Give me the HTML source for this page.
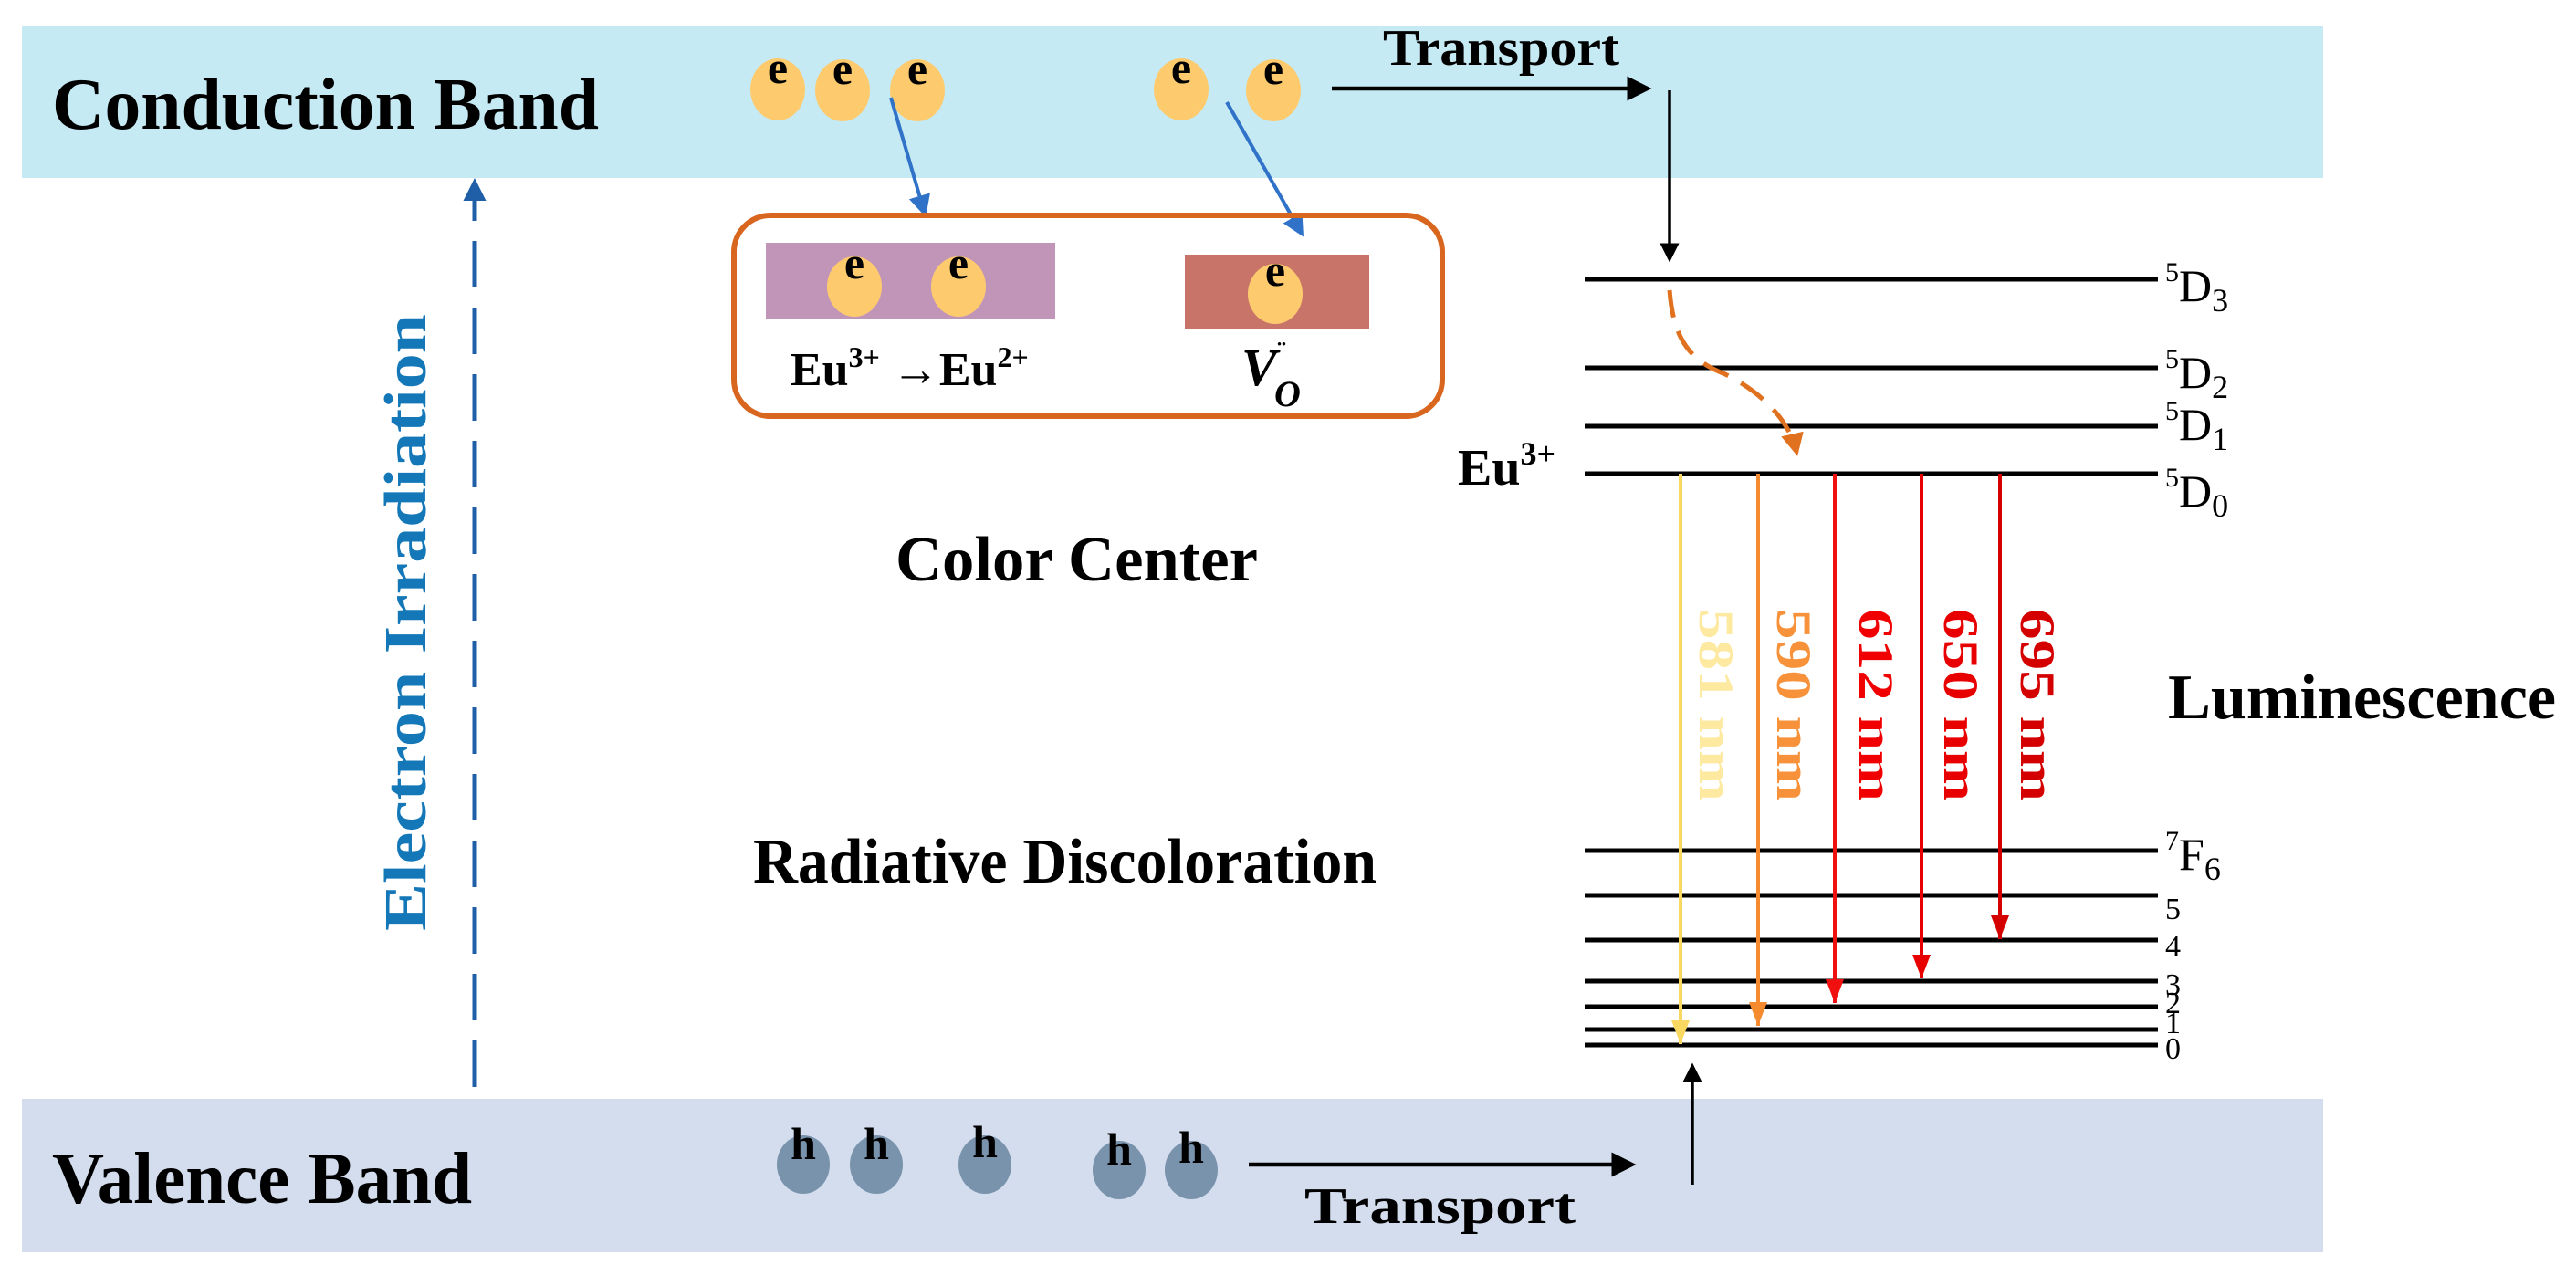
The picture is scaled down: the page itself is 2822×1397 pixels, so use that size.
<!DOCTYPE html>
<html><head><meta charset="utf-8"><style>html,body{margin:0;padding:0;background:#fff}svg{display:block}</style></head>
<body>
<svg width="2822" height="1397" viewBox="0 0 2822 1397" xmlns="http://www.w3.org/2000/svg" font-family="'Liberation Serif', serif" font-weight="bold">
<defs>
<marker id="ak" markerWidth="6" markerHeight="6" refX="5" refY="3" orient="auto" markerUnits="strokeWidth"><path d="M0,0 L6,3 L0,6 z" fill="#000"/></marker>
<marker id="ab" markerWidth="6" markerHeight="6" refX="5" refY="3" orient="auto" markerUnits="strokeWidth"><path d="M0,0 L6,3 L0,6 z" fill="#2f72c8"/></marker>
<marker id="ad" markerWidth="5" markerHeight="5" refX="4" refY="2.5" orient="auto" markerUnits="strokeWidth"><path d="M0,0 L5,2.5 L0,5 z" fill="#1f5fa8"/></marker>
<marker id="ao" markerWidth="5" markerHeight="5" refX="4" refY="2.5" orient="auto" markerUnits="strokeWidth"><path d="M0,0 L5,2.5 L0,5 z" fill="#e0711f"/></marker>
</defs>
<rect x="24" y="28" width="2521" height="167" fill="#c6eaf4"/>
<rect x="24" y="1204" width="2521" height="168" fill="#d3dded"/>
<text x="57" y="141" font-size="80" textLength="599" lengthAdjust="spacingAndGlyphs">Conduction Band</text>
<text x="57" y="1318" font-size="80" textLength="460" lengthAdjust="spacingAndGlyphs">Valence Band</text>
<g fill="#fdcb6e">
<ellipse cx="852" cy="98" rx="30" ry="34"/><ellipse cx="923" cy="99" rx="30" ry="34"/><ellipse cx="1005" cy="99" rx="30" ry="34"/>
<ellipse cx="1294" cy="98" rx="30" ry="34"/><ellipse cx="1395" cy="99" rx="30" ry="34"/>
</g>
<g font-size="50" text-anchor="middle">
<text x="852" y="91">e</text><text x="923" y="92">e</text><text x="1005" y="92">e</text>
<text x="1294" y="91">e</text><text x="1395" y="92">e</text>
</g>
<line x1="976" y1="107" x2="1013" y2="234" stroke="#2f72c8" stroke-width="4" marker-end="url(#ab)"/>
<line x1="1344" y1="112" x2="1426" y2="256" stroke="#2f72c8" stroke-width="4" marker-end="url(#ab)"/>
<rect x="804" y="236" width="776" height="220" rx="40" fill="none" stroke="#d9661f" stroke-width="6"/>
<rect x="839" y="266" width="317" height="84" fill="#c195b8"/>
<rect x="1298" y="279" width="202" height="81" fill="#c97468"/>
<g fill="#fdcb6e"><ellipse cx="936" cy="314" rx="30" ry="33"/><ellipse cx="1050" cy="314" rx="30" ry="33"/><ellipse cx="1397" cy="322" rx="30" ry="33"/></g>
<g font-size="50" text-anchor="middle"><text x="936" y="305">e</text><text x="1050" y="305">e</text><text x="1397" y="313">e</text></g>
<text x="866" y="422" font-size="52">Eu<tspan font-size="32" dy="-20">3+</tspan><tspan dy="20"> →Eu</tspan><tspan font-size="32" dy="-20">2+</tspan></text>
<text x="1360" y="422" font-size="58" font-style="italic">V</text>
<text x="1396" y="445" font-size="40" font-style="italic">O</text>
<text x="1399" y="395" font-size="30">¨</text>
<text x="981" y="636" font-size="70" textLength="397" lengthAdjust="spacingAndGlyphs">Color Center</text>
<text x="825" y="967" font-size="70" textLength="683" lengthAdjust="spacingAndGlyphs">Radiative Discoloration</text>
<text x="2375" y="787" font-size="70" textLength="425" lengthAdjust="spacingAndGlyphs">Luminescence</text>
<line x1="520" y1="1191" x2="520" y2="200" stroke="#1f5fa8" stroke-width="5" stroke-dasharray="51,22" marker-end="url(#ad)"/>
<text transform="translate(466,1020) rotate(-90)" font-size="66" fill="#1478b8" textLength="676" lengthAdjust="spacingAndGlyphs">Electron Irradiation</text>
<text x="1515" y="71" font-size="56" textLength="259" lengthAdjust="spacingAndGlyphs">Transport</text>
<line x1="1459" y1="97" x2="1805" y2="97" stroke="#000" stroke-width="4.5" marker-end="url(#ak)"/>
<line x1="1829" y1="99" x2="1829" y2="284" stroke="#000" stroke-width="3.5" marker-end="url(#ak)"/>
<g stroke="#000" stroke-width="5">
<line x1="1736" y1="306" x2="2364" y2="306"/><line x1="1736" y1="403" x2="2364" y2="403"/>
<line x1="1736" y1="467" x2="2364" y2="467"/><line x1="1736" y1="519" x2="2364" y2="519"/>
<line x1="1736" y1="932" x2="2364" y2="932"/><line x1="1736" y1="981" x2="2364" y2="981"/>
<line x1="1736" y1="1030" x2="2364" y2="1030"/><line x1="1736" y1="1075" x2="2364" y2="1075"/>
<line x1="1736" y1="1103" x2="2364" y2="1103"/><line x1="1736" y1="1128" x2="2364" y2="1128"/>
<line x1="1736" y1="1145" x2="2364" y2="1145"/>
</g>
<g font-size="50" font-weight="normal">
<text x="2372" y="330"><tspan font-size="30" dy="-22">5</tspan><tspan dy="22">D</tspan><tspan font-size="36" dy="11">3</tspan></text>
<text x="2372" y="425"><tspan font-size="30" dy="-22">5</tspan><tspan dy="22">D</tspan><tspan font-size="36" dy="11">2</tspan></text>
<text x="2372" y="482"><tspan font-size="30" dy="-22">5</tspan><tspan dy="22">D</tspan><tspan font-size="36" dy="11">1</tspan></text>
<text x="2372" y="555"><tspan font-size="30" dy="-22">5</tspan><tspan dy="22">D</tspan><tspan font-size="36" dy="11">0</tspan></text>
<text x="2372" y="953"><tspan font-size="30" dy="-22">7</tspan><tspan dy="22">F</tspan><tspan font-size="36" dy="11">6</tspan></text>
</g>
<g font-size="34" font-weight="normal">
<text x="2372" y="1007">5</text><text x="2372" y="1048">4</text><text x="2372" y="1090">3</text>
<text x="2372" y="1110">2</text><text x="2372" y="1132">1</text><text x="2372" y="1160">0</text>
</g>
<text x="1597" y="531" font-size="56">Eu<tspan font-size="36" dy="-22">3+</tspan></text>
<path d="M1829,318 C1833,370 1850,395 1890,410 C1930,430 1960,460 1968,495" fill="none" stroke="#e0711f" stroke-width="5" stroke-dasharray="30,16" marker-end="url(#ao)"/>
<g stroke-width="4">
<line x1="1841" y1="519" x2="1841" y2="1144" stroke="#f9d862"/>
<polygon points="1831,1118 1851,1118 1841,1144" fill="#f9d862"/>
<line x1="1926" y1="519" x2="1926" y2="1124" stroke="#f58a2e"/>
<polygon points="1916,1098 1936,1098 1926,1124" fill="#f58a2e"/>
<line x1="2010" y1="519" x2="2010" y2="1099" stroke="#f01010"/>
<polygon points="2000,1073 2020,1073 2010,1099" fill="#f01010"/>
<line x1="2105" y1="519" x2="2105" y2="1072" stroke="#e80000"/>
<polygon points="2095,1046 2115,1046 2105,1072" fill="#e80000"/>
<line x1="2191" y1="519" x2="2191" y2="1029" stroke="#d40000"/>
<polygon points="2181,1003 2201,1003 2191,1029" fill="#d40000"/>
</g>
<g font-size="54">
<text transform="translate(1862,667) rotate(90)" fill="#fde9a0" textLength="211" lengthAdjust="spacingAndGlyphs">581 nm</text>
<text transform="translate(1947,667) rotate(90)" fill="#f7923a" textLength="211" lengthAdjust="spacingAndGlyphs">590 nm</text>
<text transform="translate(2037,667) rotate(90)" fill="#f00000" textLength="211" lengthAdjust="spacingAndGlyphs">612 nm</text>
<text transform="translate(2130,667) rotate(90)" fill="#e80000" textLength="211" lengthAdjust="spacingAndGlyphs">650 nm</text>
<text transform="translate(2214,667) rotate(90)" fill="#d40000" textLength="211" lengthAdjust="spacingAndGlyphs">695 nm</text>
</g>
<g fill="#7a93ad">
<ellipse cx="880" cy="1276" rx="29" ry="32"/><ellipse cx="960" cy="1276" rx="29" ry="32"/><ellipse cx="1079" cy="1276" rx="29" ry="32"/>
<ellipse cx="1226" cy="1282" rx="29" ry="32"/><ellipse cx="1305" cy="1282" rx="29" ry="32"/>
</g>
<g font-size="50" text-anchor="middle">
<text x="880" y="1270">h</text><text x="960" y="1270">h</text><text x="1079" y="1268">h</text>
<text x="1226" y="1276">h</text><text x="1305" y="1274">h</text>
</g>
<line x1="1368" y1="1276" x2="1788" y2="1276" stroke="#000" stroke-width="4.5" marker-end="url(#ak)"/>
<text x="1429" y="1340" font-size="56" textLength="297" lengthAdjust="spacingAndGlyphs">Transport</text>
<line x1="1854" y1="1298" x2="1854" y2="1168" stroke="#000" stroke-width="3.5" marker-end="url(#ak)"/>
</svg>
</body></html>
